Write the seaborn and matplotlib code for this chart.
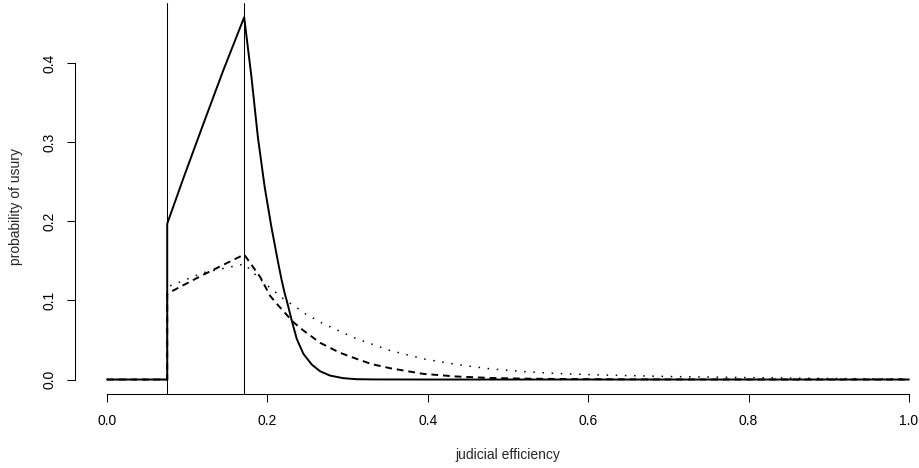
import numpy as np
import pandas as pd
import matplotlib
matplotlib.use("Agg")
import matplotlib.pyplot as plt
from matplotlib.ticker import FormatStrFormatter
import seaborn as sns

# -----------------------------
# Data
# -----------------------------
x_solid = [0.0, 0.075, 0.075, 0.095, 0.120, 0.145, 0.171, 0.180, 0.188, 0.1966,
           0.2049, 0.2132, 0.2178, 0.2216, 0.2240, 0.2303, 0.2365, 0.2448, 0.2552,
           0.2656, 0.278, 0.2946, 0.311, 0.335, 0.400, 1.0]
y_solid = [0.0, 0.0, 0.197, 0.254, 0.323, 0.391, 0.458, 0.383, 0.307, 0.243,
           0.193, 0.1485, 0.1253, 0.1085, 0.100, 0.0747, 0.0515, 0.0325, 0.019,
           0.0105, 0.005, 0.0017, 0.0004, 0.0001, 0.0, 0.0]

x_dashed = [0.0, 0.075, 0.075, 0.120, 0.171, 0.191, 0.2032, 0.2116, 0.2323, 0.2448,
            0.2656, 0.290, 0.311, 0.330, 0.353, 0.394, 0.436, 0.478, 0.520,
            0.561, 0.650, 0.750, 1.0]
y_dashed = [0.0, 0.0, 0.1085, 0.1325, 0.158, 0.1295, 0.106, 0.0958, 0.0725, 0.062,
            0.0465, 0.034, 0.0262, 0.0195, 0.0143, 0.0072, 0.0038, 0.002, 0.0011,
            0.0007, 0.0002, 0.0001, 0.0]

x_dotted = [0.0, 0.075, 0.075, 0.120, 0.171, 0.195, 0.220, 0.2386, 0.2448, 0.2697,
            0.311, 0.353, 0.394, 0.436, 0.478, 0.519, 0.561, 0.615, 0.700,
            0.823, 0.900, 1.0]
y_dotted = [0.0, 0.0, 0.117, 0.135, 0.146, 0.123, 0.102, 0.0895, 0.0845, 0.0705,
            0.0515, 0.0367, 0.0262, 0.019, 0.0135, 0.0101, 0.0076, 0.0058, 0.0038,
            0.0021, 0.0013, 0.0007]

thresholds = [0.075, 0.171]

x_ticks = [0.0, 0.2, 0.4, 0.6, 0.8, 1.0]
y_ticks = [0.0, 0.1, 0.2, 0.3, 0.4]

# -----------------------------
# Build long table
# -----------------------------
df = pd.concat([
    pd.DataFrame({"efficiency": x_solid, "prob": y_solid, "case": "case A"}),
    pd.DataFrame({"efficiency": x_dashed, "prob": y_dashed, "case": "case B"}),
    pd.DataFrame({"efficiency": x_dotted, "prob": y_dotted, "case": "case C"}),
], ignore_index=True)

# -----------------------------
# Plot
# -----------------------------
sns.set_style("ticks")
plt.rcParams["font.family"] = ["Liberation Sans", "DejaVu Sans"]
plt.rcParams["font.size"] = 10

fig = plt.figure(figsize=(9.19, 4.68), dpi=100)
ax = fig.add_axes([75 / 919, 74 / 468, 866 / 919, 391 / 468])

for t in thresholds:
    ax.axvline(t, color="black", lw=0.75, zorder=1)

sns.lineplot(data=df, x="efficiency", y="prob", hue="case", style="case",
             palette={"case A": "black", "case B": "black", "case C": "black"},
             dashes={"case A": "", "case B": (3.5, 2.5), "case C": (1, 5)},
             estimator=None, sort=False, legend=False, linewidth=1.4, ax=ax)

# dotted curve is drawn a little finer in the original
curves = ax.get_lines()[len(thresholds):]
curves[2].set_linewidth(1.1)

ax.set_xlim(-0.04, 1.04)
ax.set_ylim(-0.0183, 0.476)
ax.set_xticks(x_ticks)
ax.set_yticks(y_ticks)
ax.xaxis.set_major_formatter(FormatStrFormatter("%.1f"))
ax.yaxis.set_major_formatter(FormatStrFormatter("%.1f"))

sns.despine(ax=ax)
ax.spines["left"].set_bounds(0.0, 0.4)
ax.spines["bottom"].set_bounds(0.0, 1.0)
for s in ["left", "bottom"]:
    ax.spines[s].set_linewidth(0.75)
    ax.spines[s].set_color("black")

ax.tick_params(axis="x", length=5.8, width=0.75, pad=8.6, labelsize=10, colors="black")
ax.tick_params(axis="y", length=5.8, width=0.75, pad=7.2, labelsize=10, colors="black")
for lab in ax.get_yticklabels():
    lab.set_rotation(90)
    lab.set_va("center")

ax.set_xlabel("judicial efficiency", fontsize=10)
ax.set_ylabel("probability of usury", fontsize=10)
ax.xaxis.set_label_coords(0.5, -0.137)
ax.yaxis.set_label_coords(-0.0595, 0.48)

fig.savefig("out.png", dpi=100)
plt.close(fig)
